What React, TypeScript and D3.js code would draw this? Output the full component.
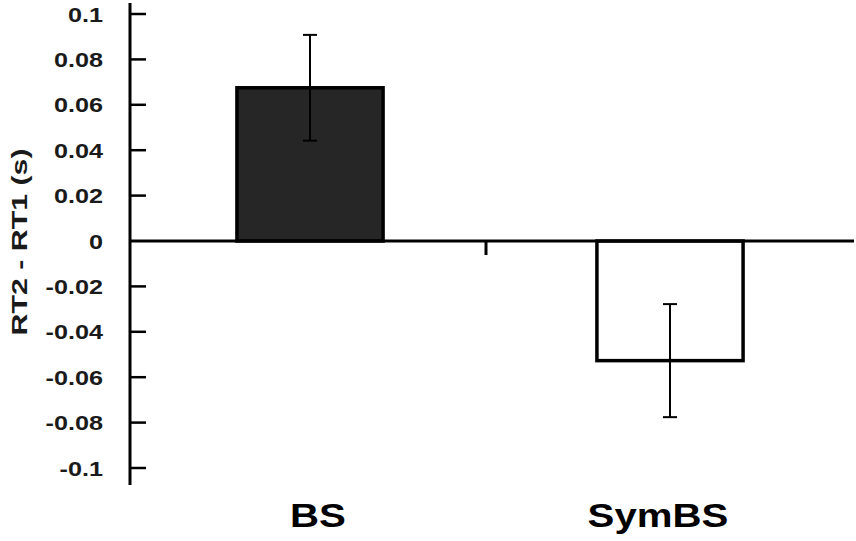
import * as d3 from "d3";

const categories = ["BS", "SymBS"];
const means = [0.0675, -0.0527];
const errors = [0.0233, 0.0249];
const fills = ["#262626", "#ffffff"];
const yTicks = [0.1, 0.08, 0.06, 0.04, 0.02, 0, -0.02, -0.04, -0.06, -0.08, -0.1];

const W = 856;
const H = 541;
const axisX = 130;

export default function App() {
  const y = d3.scaleLinear().domain([-0.1, 0.1]).range([468, 14]);
  const x = d3
    .scaleBand()
    .domain(categories)
    .range([axisX, 850])
    .paddingInner(0.594)
    .paddingOuter(0.297);
  const bw = x.bandwidth();
  const y0 = y(0);
  const sep = (x(categories[0])! + bw + x(categories[1])!) / 2;

  const fmt = (v: number) => (v === 0 ? "0" : String(v));

  return (
    <svg
      width={W}
      height={H}
      style={{ position: "absolute", left: 0, top: 0, background: "#fff" }}
      fontFamily="'Liberation Sans', Arial, sans-serif"
    >
      {/* bars */}
      {categories.map((c, i) => {
        const v = means[i];
        const top = Math.min(y(v), y0);
        const h = Math.abs(y(v) - y0);
        return (
          <rect
            key={c}
            x={x(c)}
            y={top}
            width={bw}
            height={h}
            fill={fills[i]}
            stroke="#000"
            strokeWidth={3.5}
          />
        );
      })}

      {/* error bars */}
      {categories.map((c, i) => {
        const cx = x(c)! + bw / 2;
        const hi = y(means[i] + errors[i]);
        const lo = y(means[i] - errors[i]);
        return (
          <g key={c} stroke="#000" strokeWidth={2}>
            <line x1={cx} x2={cx} y1={hi} y2={lo} />
            <line x1={cx - 7} x2={cx + 7} y1={hi} y2={hi} />
            <line x1={cx - 7} x2={cx + 7} y1={lo} y2={lo} />
          </g>
        );
      })}

      {/* zero line */}
      <line x1={axisX} x2={854} y1={y0} y2={y0} stroke="#000" strokeWidth={3} />
      {/* category separator */}
      <line x1={sep - 4} x2={sep - 4} y1={y0} y2={y0 + 14} stroke="#000" strokeWidth={3} />

      {/* y axis */}
      <line x1={axisX} x2={axisX} y1={3} y2={485} stroke="#000" strokeWidth={3} />
      {yTicks.map((t) => (
        <g key={t}>
          {t !== 0 && (
            <line x1={axisX} x2={axisX + 16} y1={y(t)} y2={y(t)} stroke="#000" strokeWidth={2.5} />
          )}
          <text
            transform={`translate(103, ${y(t)}) scale(1.2, 1)`}
            textAnchor="end"
            dy="0.36em"
            fontSize={21}
            fontWeight="bold"
            fill="#1a1a1a"
          >
            {fmt(t)}
          </text>
        </g>
      ))}

      {/* y label */}
      <text
        transform={`translate(27, 242) rotate(-90)`}
        textAnchor="middle"
        fontSize={21.5}
        fontWeight="bold"
        textLength={187}
        lengthAdjust="spacingAndGlyphs"
        fill="#1a1a1a"
      >
        RT2 - RT1 (s)
      </text>

      {/* category labels */}
      {categories.map((c, i) => (
        <text
          key={c}
          transform={`translate(${x(c)! + bw / 2 + (i === 0 ? 8 : -12)}, 527) scale(1.2, 1)`}
          textAnchor="middle"
          fontSize={33.5}
          fontWeight="bold"
          fill="#000"
        >
          {c}
        </text>
      ))}
    </svg>
  );
}
